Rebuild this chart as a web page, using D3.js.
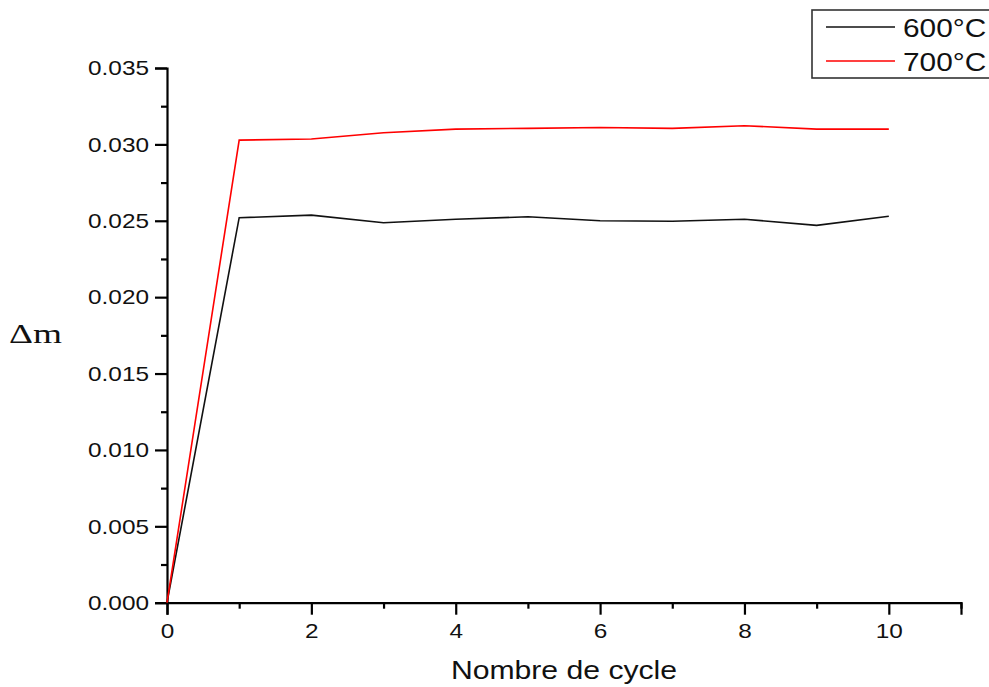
<!DOCTYPE html>
<html>
<head>
<meta charset="utf-8">
<script src="https://cdn.jsdelivr.net/npm/d3@7"></script>
<style>
  html, body { margin: 0; padding: 0; background: #fff; }
  svg { display: block; }
  text { font-family: Arial, "Liberation Sans", sans-serif; fill: #111; }
</style>
</head>
<body>
<svg id="chart" width="989" height="687"></svg>
<script>
// Mass gain per thermal cycle
const cycles = [0, 1, 2, 3, 4, 5, 6, 7, 8, 9, 10];
const mass600 = [0, 0.0252, 0.02537, 0.02487, 0.0251, 0.02526, 0.0250, 0.02497, 0.0251, 0.0247, 0.0253];
const mass700 = [0, 0.03028, 0.03035, 0.03076, 0.0310, 0.03105, 0.03111, 0.03105, 0.03122, 0.0310, 0.0310];
const seriesNames = ["600°C", "700°C"];
const seriesColors = ["#111111", "#ff0000"];
const xMajorTicks = [0, 2, 4, 6, 8, 10];
const yMajorTicks = [0, 0.005, 0.010, 0.015, 0.020, 0.025, 0.030, 0.035];

const svg = d3.select("#chart");
const stretch = 1.16;

const x = d3.scaleLinear().domain([0, 11]).range([167, 961]);
const y = d3.scaleLinear().domain([0, 0.035]).range([602.7, 68]);

// minor ticks halfway between majors
const xMinor = d3.range(1, 12, 2);
const yMinor = d3.range(0.0025, 0.035, 0.005);

// y axis
const gy = svg.append("g").attr("transform", `translate(${x(0)},0)`);
gy.call(d3.axisLeft(y).tickValues(yMajorTicks).tickFormat(d3.format(".3f")).tickSize(12).tickPadding(6));
gy.append("g").call(d3.axisLeft(y).tickValues(yMinor).tickFormat("").tickSize(6))
  .select(".domain").remove();

// x axis
const gx = svg.append("g").attr("transform", `translate(0,${y(0)})`);
gx.call(d3.axisBottom(x).tickValues(xMajorTicks).tickFormat(d3.format("d")).tickSize(12).tickPadding(8));
gx.append("g").call(d3.axisBottom(x).tickValues(xMinor).tickFormat("").tickSize(6))
  .select(".domain").remove();

svg.selectAll(".domain").attr("stroke", "#000").attr("stroke-width", 2.2);
svg.selectAll(".tick line").attr("stroke", "#000").attr("stroke-width", 2.2);
svg.selectAll(".tick text")
  .attr("font-size", 21)
  .style("font-family", "Arial, 'Liberation Sans', sans-serif")
  .style("fill", "#111");
// widen the tick label glyphs, keeping their anchor
gy.selectAll(".tick text").each(function() {
  const t = d3.select(this);
  const tx = +t.attr("x");
  t.attr("x", tx / stretch).attr("transform", `scale(${stretch},1)`);
});
gx.selectAll(".tick text").attr("transform", `scale(${stretch},1)`);

// series lines
const line = d3.line().x((d, i) => x(cycles[i])).y(d => y(d));
[mass600, mass700].forEach((vals, k) => {
  svg.append("path")
    .datum(vals)
    .attr("fill", "none")
    .attr("stroke", seriesColors[k])
    .attr("stroke-width", 1.6)
    .attr("stroke-linejoin", "miter")
    .attr("d", line);
});

// axis titles
svg.append("text")
  .attr("transform", `translate(564,679) scale(${stretch},1)`)
  .attr("text-anchor", "middle")
  .attr("font-size", 26)
  .text("Nombre de cycle");

svg.append("text")
  .attr("x", 9).attr("y", 343)
  .style("font-family", "'Liberation Serif', 'DejaVu Serif', serif")
  .attr("font-size", 28)
  .attr("textLength", 53)
  .attr("lengthAdjust", "spacingAndGlyphs")
  .text("Δm");

// legend
const legend = svg.append("g");
legend.append("rect")
  .attr("x", 812).attr("y", 10).attr("width", 200).attr("height", 68)
  .attr("fill", "#fff").attr("stroke", "#333").attr("stroke-width", 1.6);
const legendRows = [27, 61];
seriesNames.forEach((name, k) => {
  legend.append("line")
    .attr("x1", 826).attr("x2", 895)
    .attr("y1", legendRows[k]).attr("y2", legendRows[k])
    .attr("stroke", seriesColors[k]).attr("stroke-width", 1.6);
  legend.append("text")
    .attr("transform", `translate(903,${legendRows[k] + 10}) scale(1.17,1)`)
    .attr("font-size", 25.5)
    .text(name);
});
</script>
</body>
</html>
